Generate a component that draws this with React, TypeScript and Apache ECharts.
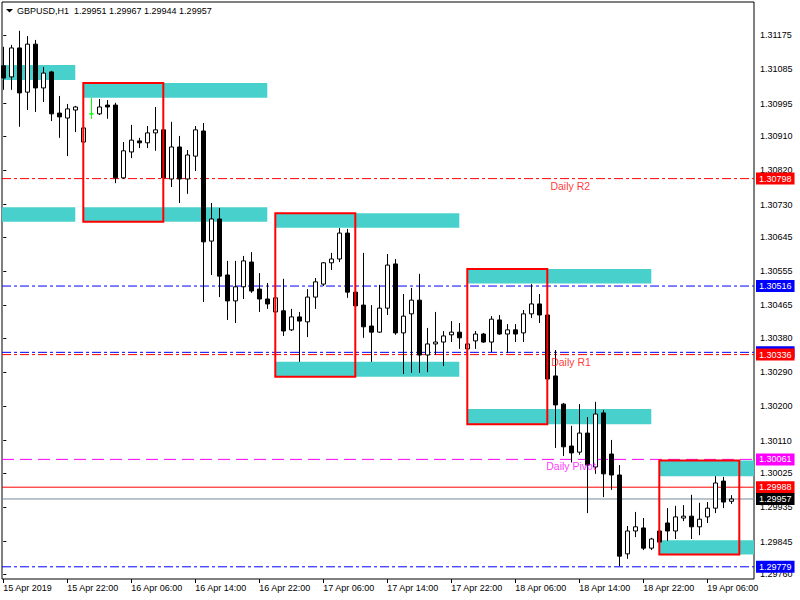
import React, { useEffect, useRef } from "react";
import * as echarts from "echarts";

// ---- data (GBPUSD H1, bar 0 = 15 Apr 14:00) ----
const openP = [
  1.31094, 1.31065, 1.31141, 1.31025, 1.31151, 1.31036, 1.31078, 1.3097, 1.30957, 1.30978,
  1.30894, 1.30968, 1.30968, 1.30991, 1.30991, 1.308, 1.30868, 1.30897, 1.30892, 1.30918,
  1.30926, 1.30797, 1.30881, 1.30797, 1.30857, 1.30923, 1.30634, 1.30692, 1.30545, 1.30477,
  1.30514, 1.30579, 1.30508, 1.30482, 1.30448, 1.30451, 1.30401, 1.30435, 1.30422, 1.30487,
  1.30521, 1.30577, 1.30587, 1.30655, 1.305, 1.30466, 1.30411, 1.30395, 1.30458, 1.30574,
  1.30393, 1.30443, 1.30479, 1.30335, 1.30364, 1.30369, 1.30388, 1.30395, 1.30351, 1.30372,
  1.3039, 1.30369, 1.30427, 1.3039, 1.30401, 1.30393, 1.30443, 1.30469, 1.3044, 1.3028,
  1.30206, 1.30096, 1.3008, 1.3013, 1.30041, 1.30183, 1.30075, 1.3002, 1.29813, 1.29873,
  1.29881, 1.29828, 1.29873, 1.29894, 1.29873, 1.29907, 1.29912, 1.29884, 1.2991, 1.29933,
  1.30004, 1.29951,
];
const highP = [
  1.31144, 1.31149, 1.31186, 1.31172, 1.31162, 1.31091, 1.31081, 1.31015, 1.30994, 1.30989,
  1.30934, 1.3101, 1.31007, 1.31004, 1.30997, 1.30894, 1.30939, 1.30905, 1.30936, 1.30986,
  1.30931, 1.30947, 1.3091, 1.30873, 1.30936, 1.30944, 1.30734, 1.30721, 1.30582, 1.30582,
  1.30595, 1.30605, 1.3055, 1.30524, 1.3049, 1.30535, 1.30456, 1.30448, 1.30508, 1.30537,
  1.30579, 1.30603, 1.30668, 1.30666, 1.30503, 1.30603, 1.30466, 1.30519, 1.306, 1.30587,
  1.30495, 1.30511, 1.30548, 1.30406, 1.30448, 1.30398, 1.30424, 1.30419, 1.30369, 1.30398,
  1.30393, 1.30437, 1.3044, 1.30416, 1.30416, 1.30453, 1.30521, 1.30495, 1.30445, 1.30348,
  1.30209, 1.30149, 1.30206, 1.30172, 1.30212, 1.30191, 1.30112, 1.30046, 1.29886, 1.29923,
  1.29907, 1.29855, 1.29881, 1.29933, 1.29939, 1.29941, 1.29968, 1.29947, 1.29949, 1.30017,
  1.30015, 1.29967,
];
const lowP = [
  1.31031, 1.31031, 1.30934, 1.30978, 1.30973, 1.30999, 1.30949, 1.30905, 1.30857, 1.3092,
  1.30892, 1.30955, 1.30965, 1.30955, 1.30786, 1.30797, 1.30852, 1.30878, 1.30878, 1.30871,
  1.30794, 1.30776, 1.30734, 1.30758, 1.30818, 1.30474, 1.30545, 1.30487, 1.30427, 1.30419,
  1.30482, 1.30498, 1.30448, 1.30456, 1.30445, 1.30385, 1.30398, 1.30317, 1.30382, 1.30456,
  1.30516, 1.30558, 1.30579, 1.30485, 1.30464, 1.3038, 1.30317, 1.30393, 1.3044, 1.30388,
  1.30285, 1.30288, 1.30288, 1.3029, 1.30335, 1.30306, 1.30369, 1.30351, 1.30348, 1.30351,
  1.30367, 1.30343, 1.30388, 1.3034, 1.30369, 1.30369, 1.30432, 1.30419, 1.30269, 1.30091,
  1.3007, 1.30053, 1.30073, 1.2992, 1.30023, 1.29962, 1.29981, 1.29781, 1.298, 1.29857,
  1.29823, 1.29823, 1.29844, 1.29847, 1.29852, 1.29899, 1.29852, 1.29862, 1.29894, 1.2992,
  1.29933, 1.29944,
];
const closeP = [
  1.31062, 1.31141, 1.31023, 1.31151, 1.31036, 1.31075, 1.30968, 1.3096, 1.30981, 1.30986,
  1.30931, 1.30968, 1.30986, 1.30986, 1.308, 1.30871, 1.30899, 1.30892, 1.30918, 1.30926,
  1.308, 1.30881, 1.30797, 1.3086, 1.30926, 1.30632, 1.30692, 1.30542, 1.30477, 1.30514,
  1.30582, 1.30503, 1.30482, 1.30469, 1.30485, 1.30398, 1.30435, 1.30424, 1.30487, 1.30527,
  1.30577, 1.30587, 1.30655, 1.305, 1.30464, 1.30409, 1.30395, 1.30458, 1.30571, 1.30393,
  1.30437, 1.30479, 1.30335, 1.30364, 1.30369, 1.30385, 1.30395, 1.3038, 1.30364, 1.3039,
  1.30369, 1.30429, 1.3039, 1.30401, 1.3039, 1.30443, 1.30469, 1.3044, 1.30272, 1.30204,
  1.30094, 1.30078, 1.3013, 1.30046, 1.3018, 1.30023, 1.3002, 1.29807, 1.29873, 1.29884,
  1.29828, 1.29852, 1.29844, 1.29873, 1.2991, 1.29912, 1.29884, 1.29904, 1.29933, 1.29999,
  1.29949, 1.29957,
];

const xTickBars = [0, 8, 16, 24, 32, 40, 48, 56, 64, 72, 80, 88];
const xTickLabels = [
  "15 Apr 2019", "15 Apr 22:00", "16 Apr 06:00", "16 Apr 14:00", "16 Apr 22:00", "17 Apr 06:00",
  "17 Apr 14:00", "17 Apr 22:00", "18 Apr 06:00", "18 Apr 14:00", "18 Apr 22:00", "19 Apr 06:00",
];
const yTickValues = [
  1.31175, 1.31085, 1.30995, 1.3091, 1.3082, 1.3073, 1.30645, 1.30555, 1.30465, 1.3038,
  1.3029, 1.302, 1.3011, 1.30025, 1.29935, 1.29845, 1.2976,
];

// supply / demand zones (bar index from / to, price top / bottom)
const zoneFrom = [-14, 10, -14, 10, 34, 34, 58, 58, 82, 82];
const zoneTo = [9, 33, 9, 33, 57, 57, 81, 81, 105, 105];
const zoneTop = [1.31096, 1.31049, 1.30723, 1.30723, 1.30707, 1.30317, 1.30561, 1.30193, 1.30058, 1.29849];
const zoneBottom = [1.31057, 1.3101, 1.30685, 1.30685, 1.30669, 1.30278, 1.30523, 1.30153, 1.30017, 1.29811];

// session boxes
const boxFrom = [10, 34, 58, 82];
const boxTo = [20, 44, 68, 92];
const boxTop = [1.31049, 1.30707, 1.30561, 1.30058];
const boxBottom = [1.30685, 1.30278, 1.30153, 1.29811];

// horizontal levels
const levelPrices = [1.30798, 1.30516, 1.30342, 1.30336, 1.30061, 1.29988, 1.29957, 1.29779];
const levelColors = ["#ff0000", "#0000ff", "#0000ff", "#ff0000", "#ff00ff", "#ff0000", "#778899", "#0000ff"];
const levelTagColors = ["#ff0000", "#0000ff", "#0000ff", "#ff0000", "#ff00ff", "#ff0000", "#000000", "#0000ff"];
const levelStyles = ["dashdot", "dashdot", "dashdot", "dashdot", "dash", "solid", "solid", "dashdot"];

const pivotTexts = ["Daily R2", "Daily R1", "Daily Pivot"];
const pivotTextPrices = [1.30798, 1.30336, 1.30061];
const pivotTextBars = [68.45, 68.55, 67.93];
const pivotTextColors = ["#ff0000", "#ff0000", "#ff00ff"];

const headerText = "GBPUSD,H1  1.29951 1.29967 1.29944 1.29957";

const X_MIN = -0.1625;
const X_MAX = 93.8375;
const Y_MIN = 1.29747;
const Y_MAX = 1.312616;
const FONT = "'Liberation Sans', Arial, sans-serif";
const DOJI = "#00ff00";

export default function App() {
  const ref = useRef<HTMLDivElement>(null);

  useEffect(() => {
    if (!ref.current) return;
    const chart = echarts.init(ref.current, null, { renderer: "svg" });

    const candles = openP.map((o, i) => {
      const item: any = { value: [i, o, closeP[i], lowP[i], highP[i]] };
      if (o === closeP[i]) {
        item.itemStyle = {
          color: DOJI, color0: DOJI, borderColor: DOJI, borderColor0: DOJI, borderColorDoji: DOJI,
        };
      }
      return item;
    });

    const clampX = (v: number) => Math.min(X_MAX, Math.max(X_MIN, v));
    const zones = zoneFrom.map((f, i) => [
      { xAxis: clampX(f), yAxis: zoneTop[i] },
      { xAxis: clampX(zoneTo[i]), yAxis: zoneBottom[i] },
    ]);

    const dashFor = (s: string): any =>
      s === "dashdot" ? [9, 3, 3, 3] : s === "dash" ? [12, 6] : "solid";

    const boxData = boxFrom.map((f, i) => [f, boxTo[i], boxTop[i], boxBottom[i]]);

    const levelSeries = levelPrices.map((p, i) => ({
      type: "line",
      name: "level" + i,
      z: 1,
      silent: true,
      symbol: "none",
      showSymbol: false,
      clip: true,
      data: [[X_MIN, p], [X_MAX, p]],
      lineStyle: { color: levelColors[i], width: 1, type: dashFor(levelStyles[i]) },
      itemStyle: { color: levelColors[i] },
      emphasis: { disabled: true },
      endLabel: {
        show: true,
        formatter: () => p.toFixed(5),
        color: "#ffffff",
        backgroundColor: levelTagColors[i],
        fontFamily: FONT,
        fontSize: 9,
        lineHeight: 12,
        padding: [0, 3, 0, 3],
        distance: 2,
      },
    }));

    const option: any = {
      animation: false,
      backgroundColor: "#ffffff",
      textStyle: { fontFamily: FONT },
      title: {
        text: headerText,
        left: 17,
        top: 5,
        padding: 0,
        textStyle: { fontFamily: FONT, fontSize: 9, fontWeight: "normal", color: "#000", lineHeight: 12 },
      },
      graphic: [
        { type: "polygon", shape: { points: [[6, 9], [13, 9], [9.5, 12.5]] }, style: { fill: "#000" } },
      ],
      grid: {
        left: 2, top: 2, right: 46, bottom: 21,
        show: true, borderColor: "#000", borderWidth: 1, backgroundColor: "#fff",
      },
      xAxis: {
        type: "value",
        min: X_MIN,
        max: X_MAX,
        axisLine: { show: false },
        splitLine: { show: false },
        axisTick: { show: true, customValues: xTickBars, length: 4, lineStyle: { color: "#000" } },
        axisLabel: {
          show: true,
          customValues: xTickBars,
          formatter: (v: number) => {
            const k = xTickBars.indexOf(Math.round(v));
            return k >= 0 ? xTickLabels[k] : "";
          },
          align: "left",
          margin: 4,
          color: "#000",
          fontFamily: FONT,
          fontSize: 9,
        },
      },
      yAxis: {
        type: "value",
        position: "right",
        scale: true,
        min: Y_MIN,
        max: Y_MAX,
        axisLine: { show: false },
        splitLine: { show: false },
        axisTick: { show: true, customValues: yTickValues, length: 3, lineStyle: { color: "#000" } },
        axisLabel: {
          show: true,
          customValues: yTickValues,
          formatter: (v: number) => v.toFixed(5),
          margin: 6,
          color: "#000",
          fontFamily: FONT,
          fontSize: 9,
        },
      },
      series: [
        {
          type: "line",
          name: "zones",
          data: [],
          z: 1,
          silent: true,
          markArea: {
            silent: true,
            z: 1,
            itemStyle: { color: "#48D1CC", opacity: 1 },
            data: zones,
          },
        },
        ...levelSeries,
        {
          type: "candlestick",
          name: "GBPUSD",
          z: 2,
          barWidth: 4,
          encode: { x: 0, y: [1, 2, 3, 4] },
          itemStyle: {
            color: "#ffffff",
            color0: "#000000",
            borderColor: "#000000",
            borderColor0: "#000000",
            borderColorDoji: DOJI,
            borderWidth: 1,
          },
          data: candles,
        },
        {
          type: "custom",
          name: "boxes",
          z: 3,
          silent: true,
          clip: true,
          encode: { x: [0, 1], y: [2, 3] },
          data: boxData,
          renderItem: (params: any, api: any) => {
            const p1 = api.coord([api.value(0), api.value(2)]);
            const p2 = api.coord([api.value(1), api.value(3)]);
            return {
              type: "rect",
              shape: { x: p1[0], y: p1[1], width: p2[0] - p1[0], height: p2[1] - p1[1] },
              style: { fill: "none", stroke: "#ff0000", lineWidth: 2 },
            };
          },
        },
        {
          type: "scatter",
          name: "pivotText",
          z: 4,
          silent: true,
          symbolSize: 1,
          itemStyle: { color: "rgba(0,0,0,0)" },
          data: pivotTexts.map((t, i) => ({
            value: [pivotTextBars[i], pivotTextPrices[i]],
            label: {
              show: true,
              formatter: t,
              position: [0, 2],
              align: "left",
              verticalAlign: "top",
              color: pivotTextColors[i],
              fontFamily: FONT,
              fontSize: 10.5,
            },
          })),
        },
      ],
    };

    chart.setOption(option);
    return () => chart.dispose();
  }, []);

  return (
    <div
      ref={ref}
      style={{ position: "fixed", left: 0, top: 0, width: 800, height: 600, background: "#fff" }}
    />
  );
}
